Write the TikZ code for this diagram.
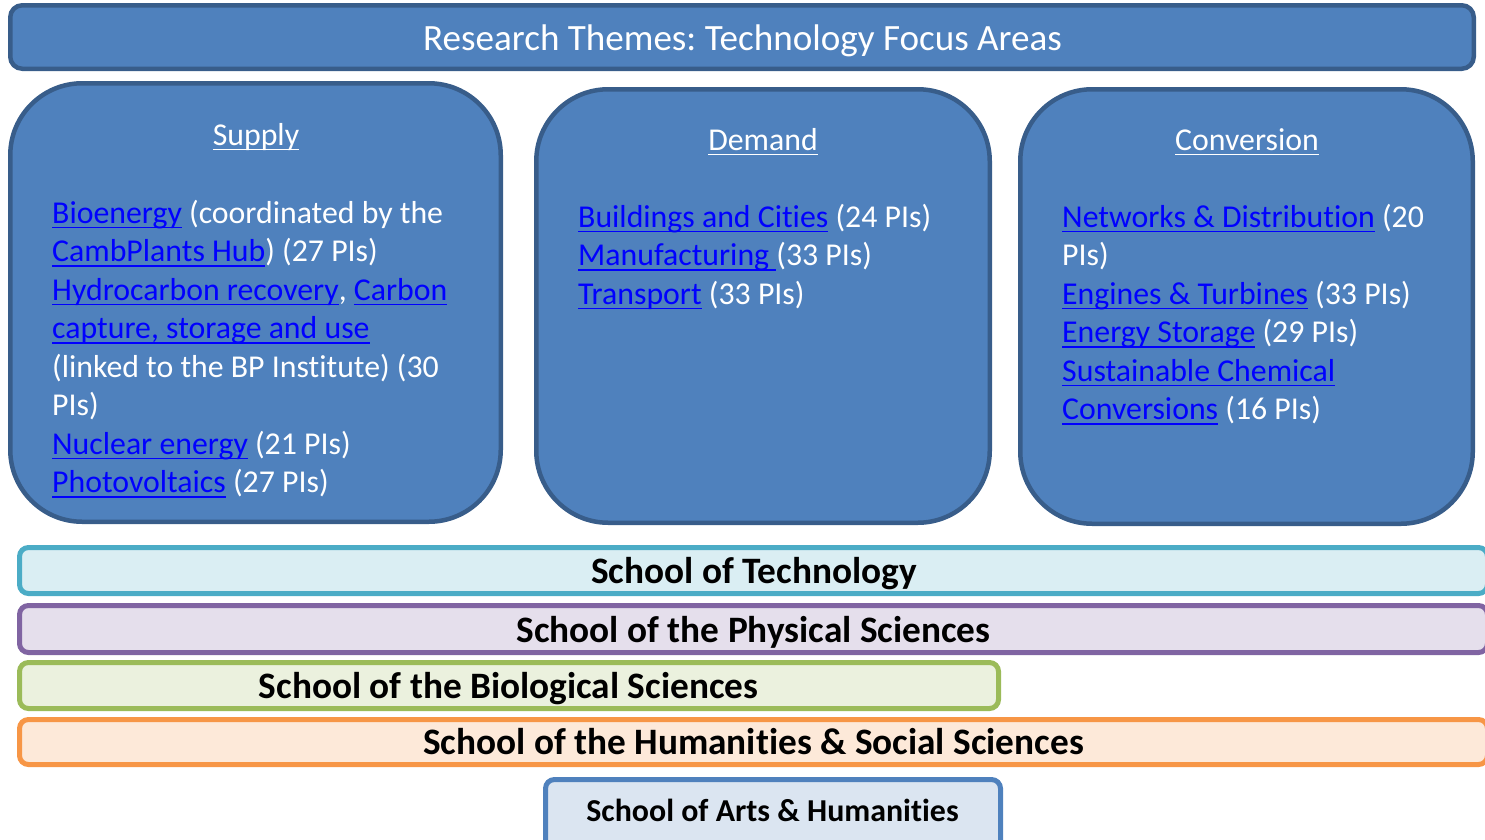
\documentclass[tikz,border=0pt]{standalone}
\usepackage{fontspec}
\setmainfont{Carlito}[Ligatures={NoCommon}]
\frenchspacing

\definecolor{themefill}{HTML}{4F81BD}
\definecolor{themeline}{HTML}{385D8A}
\definecolor{linkblue}{HTML}{0000FF}
\definecolor{techfill}{HTML}{DAEEF3}
\definecolor{techline}{HTML}{4BACC6}
\definecolor{physfill}{HTML}{E5DFEC}
\definecolor{physline}{HTML}{8064A2}
\definecolor{biofill}{HTML}{EBF1DE}
\definecolor{bioline}{HTML}{9BBB59}
\definecolor{humfill}{HTML}{FDE9D9}
\definecolor{humline}{HTML}{F79646}
\definecolor{artsfill}{HTML}{DBE5F1}
\definecolor{artsline}{HTML}{4F81BD}

% underline drawn a fixed distance below the baseline, through descenders
\newsavebox{\undlbox}
\newcommand{\undl}[1]{\sbox{\undlbox}{#1}\rlap{\rule[-5.3pt]{\wd\undlbox}{1.8pt}}\usebox{\undlbox}}
\newcommand{\lnk}[1]{\textcolor{linkblue}{\undl{#1}}}

\tikzset{
  themebox/.style={rectangle, draw=themeline, fill=themefill, line width=4.5pt,
    rounded corners=72pt, inner sep=0pt},
  titlebar/.style={themebox, rounded corners=12pt},
  schoolbar/.style={rectangle, line width=5pt, rounded corners=9pt, inner sep=0pt},
  body/.style={anchor=base west, inner sep=0pt, text=white,
    font=\fontsize{31.8}{38.5}\selectfont},
  heading/.style={anchor=base, inner sep=0pt, text=white,
    font=\fontsize{31.8}{38.5}\selectfont},
  titletext/.style={anchor=base, inner sep=0pt, text=white,
    font=\fontsize{37.1}{44}\selectfont},
  schooltext/.style={anchor=base, inner sep=0pt, text=black,
    font=\fontsize{37.3}{44}\selectfont\bfseries},
  artstext/.style={anchor=base, inner sep=0pt, text=black,
    font=\fontsize{31.9}{38.5}\selectfont\bfseries},
}

\begin{document}
\begin{tikzpicture}[x=1pt, y=-1pt]
\useasboundingbox (0,0) rectangle (1485,839);
\clip (0,0) rectangle (1485,839);

% title bar
\node[titlebar, minimum width=1463.5pt, minimum height=63.5pt] (title) at (742,37) {};
\node[titletext] (titlelbl) at (742.5,50) {Research Themes: Technology Focus Areas};

% three theme boxes
\node[themebox, minimum width=490.5pt, minimum height=438.5pt] (supply) at (255.5,302.5) {};
\node[themebox, minimum width=453.5pt, minimum height=433.5pt] (demand) at (763,306) {};
\node[themebox, minimum width=452.5pt, minimum height=434.5pt] (conversion) at (1246.5,306.5) {};

% Supply
\node[heading] (suphead) at (256,145) {\undl{Supply}};
\node[body] (sup1) at (52,223) {\lnk{Bioenergy} (coordinated by the};
\node[body] (sup2) at (52,261.5) {\lnk{CambPlants Hub}) (27 PIs)};
\node[body] (sup3) at (52,300) {\lnk{Hydrocarbon recovery}, \lnk{Carbon}};
\node[body] (sup4) at (52,338.5) {\lnk{capture, storage and use}};
\node[body] (sup5) at (52,377) {(linked to the BP Institute) (30};
\node[body] (sup6) at (52,415.5) {PIs)};
\node[body] (sup7) at (52,454) {\lnk{Nuclear energy} (21 PIs)};
\node[body] (sup8) at (52,492.5) {\lnk{Photovoltaics} (27 PIs)};

% Demand
\node[heading] (demhead) at (763,150) {\undl{Demand}};
\node[body] (dem1) at (578,227) {\lnk{Buildings and Cities} (24 PIs)};
\node[body] (dem2) at (578,265.5) {\lnk{Manufacturing\ }(33 PIs)};
\node[body] (dem3) at (578,304) {\lnk{Transport} (33 PIs)};

% Conversion
\node[heading] (convhead) at (1247,150) {\undl{Conversion}};
\node[body] (conv1) at (1062,227) {\lnk{Networks \& Distribution} (20};
\node[body] (conv2) at (1062,265.5) {PIs)};
\node[body] (conv3) at (1062,304) {\lnk{Engines \& Turbines} (33 PIs)};
\node[body] (conv4) at (1062,342.5) {\lnk{Energy Storage} (29 PIs)};
\node[body] (conv5) at (1062,381) {\lnk{Sustainable Chemical}};
\node[body] (conv6) at (1062,419.5) {\lnk{Conversions} (16 PIs)};

% school bars
\node[schoolbar, draw=techline, fill=techfill, minimum width=1468pt, minimum height=46pt] (tech) at (753.5,570.5) {};
\node[schooltext] (techlbl) at (754,583) {School of Technology};

\node[schoolbar, draw=physline, fill=physfill, minimum width=1468pt, minimum height=47pt] (phys) at (753.5,629) {};
\node[schooltext] (physlbl) at (753.5,642) {School of the Physical Sciences};

\node[schoolbar, draw=bioline, fill=biofill, minimum width=979pt, minimum height=46pt] (bio) at (509,685.5) {};
\node[schooltext] (biolbl) at (508.5,698) {School of the Biological Sciences};

\node[schoolbar, draw=humline, fill=humfill, minimum width=1468pt, minimum height=45pt] (hum) at (753.5,742) {};
\node[schooltext] (humlbl) at (753.5,754) {School of the Humanities \& Social Sciences};

\node[schoolbar, draw=artsline, fill=artsfill, minimum width=455pt, minimum height=70pt] (arts) at (773,814.5) {};
\node[artstext] (artslbl) at (772.5,821) {School of Arts \& Humanities};
\end{tikzpicture}
\end{document}
